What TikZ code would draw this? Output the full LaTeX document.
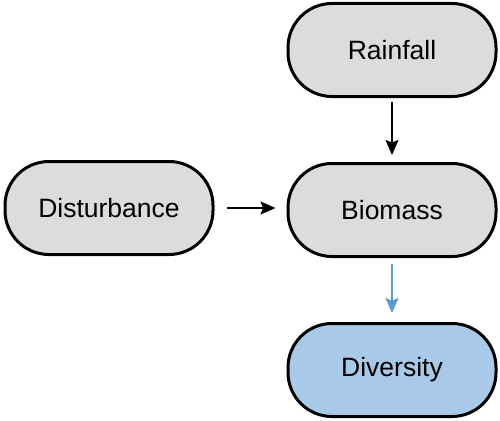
\documentclass[tikz,border=0pt]{standalone}
\usepackage{fontspec}
\setmainfont{Liberation Sans}
\usetikzlibrary{arrows.meta}
\definecolor{boxgray}{HTML}{DCDCDC}
\definecolor{boxblue}{HTML}{A9C9E8}
\definecolor{arrblue}{HTML}{5B9BD5}
\begin{document}
\begin{tikzpicture}[x=1pt,y=-1pt,
  box/.style={draw=black, line width=3pt, rounded corners=44pt, minimum width=208pt, minimum height=93pt, inner sep=0pt, font=\fontsize{26.5}{30}\selectfont, fill=boxgray},
  conn/.style={line width=1.4pt, -{Stealth[length=15pt,width=13pt,inset=2.5pt]}}]
\useasboundingbox (0,0) rectangle (500,420);
\node[box] (rain) at (392,50) {Rainfall};
\node[box] (bio) at (392,210) {Biomass};
\node[box] (dist) at (109,208) {Disturbance};
\node[box, fill=boxblue] (div) at (392,370) {Diversity};
\draw[conn, shorten <=4pt, shorten >=7pt] (rain) -- (bio);
\draw[conn, shorten <=12pt, shorten >=11pt] (dist.east) -- (dist.east -| bio.west);
\draw[conn, draw=arrblue, fill=arrblue, shorten <=6pt, shorten >=9pt] (bio) -- (div);
\end{tikzpicture}
\end{document}
